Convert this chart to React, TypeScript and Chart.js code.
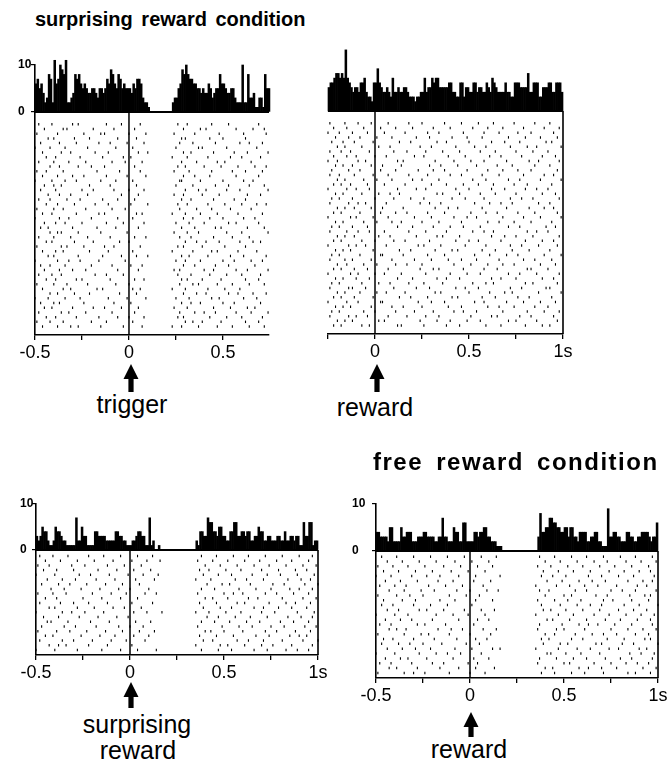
import React, { useEffect, useRef } from "react";
import { Chart, registerables } from "chart.js";

Chart.register(...registerables);

const FONT = "'Liberation Sans', Arial, Helvetica, sans-serif";
const BIN_S = 0.01;

const xTickValues = [-0.5, -0.25, 0, 0.25, 0.5, 0.75, 1];
const xTickLabels = ["-0.5", "", "0", "", "0.5", "", "1s"];
const yTickValues = [0, 10];
const yTickLabels = ["0", "10"];

// PSTH counts per 10 ms bin
const triggerHistStart = -0.5;
const triggerHist = [
  6, 7, 5, 6, 4, 2, 3, 8, 7, 2,
  11, 6, 7, 10, 9, 8, 11, 2, 2, 3,
  4, 8, 7, 8, 6, 5, 6, 5, 4, 4,
  5, 5, 4, 3, 5, 5, 4, 5, 7, 6,
  9, 8, 6, 5, 8, 7, 5, 6, 5, 5,
  5, 4, 6, 5, 7, 7, 6, 3, 2, 2,
  1, 0, 0, 0, 0, 0, 0, 0, 0, 0,
  0, 0, 0, 2, 3, 3, 5, 6, 9, 8,
  10, 8, 7, 7, 6, 6, 5, 5, 4, 5,
  4, 4, 6, 5, 3, 4, 5, 5, 8, 6,
  6, 5, 4, 4, 5, 5, 3, 2, 2, 2,
  10, 2, 2, 8, 3, 3, 4, 1, 1, 3,
  3, 1, 8, 5, 5,
];

const rewardHistStart = -0.25;
const rewardHist = [
  5, 6, 6, 7, 8, 8, 7, 8, 7, 13,
  7, 6, 5, 4, 5, 5, 4, 6, 6, 7,
  4, 3, 3, 2, 6, 6, 9, 6, 5, 4,
  4, 5, 4, 3, 7, 4, 4, 5, 4, 4,
  5, 5, 4, 3, 3, 3, 2, 3, 3, 4,
  4, 7, 4, 5, 5, 7, 6, 7, 7, 5,
  5, 5, 5, 5, 6, 6, 4, 4, 3, 3,
  6, 6, 3, 5, 5, 4, 4, 6, 6, 4,
  5, 5, 4, 4, 6, 5, 4, 7, 6, 5,
  4, 4, 4, 4, 6, 4, 4, 3, 3, 6,
  6, 6, 5, 5, 5, 5, 8, 4, 4, 6,
  6, 6, 3, 3, 5, 5, 5, 6, 6, 4,
  4, 6, 6, 6, 4,
];

const surpriseHistStart = -0.5;
const surpriseHist = [
  3, 2, 3, 5, 4, 4, 2, 1, 1, 2,
  5, 4, 4, 3, 2, 2, 1, 1, 1, 1,
  1, 7, 2, 2, 5, 3, 3, 1, 1, 1,
  1, 4, 4, 3, 3, 3, 3, 2, 2, 2,
  2, 2, 4, 4, 3, 3, 2, 2, 1, 1,
  1, 2, 2, 3, 4, 4, 3, 3, 1, 1,
  7, 1, 2, 0, 0, 1, 0, 0, 0, 0,
  0, 0, 0, 0, 0, 0, 0, 0, 0, 0,
  0, 0, 0, 0, 0, 2, 1, 4, 4, 3,
  3, 7, 6, 6, 4, 4, 3, 5, 5, 3,
  3, 2, 2, 4, 4, 6, 6, 3, 3, 4,
  4, 3, 4, 4, 2, 2, 3, 3, 5, 4,
  4, 2, 2, 3, 3, 2, 2, 2, 3, 3,
  2, 2, 4, 2, 2, 3, 3, 2, 3, 3,
  1, 1, 6, 3, 3, 6, 6, 1, 2, 2,
];

const freeHistStart = -0.5;
const freeHist = [
  4, 4, 3, 3, 3, 3, 2, 5, 5, 2,
  2, 2, 2, 5, 3, 3, 4, 4, 4, 2,
  2, 2, 3, 3, 3, 4, 4, 3, 3, 3,
  3, 2, 2, 3, 3, 7, 3, 3, 2, 2,
  2, 5, 4, 4, 2, 2, 6, 6, 2, 2,
  2, 2, 4, 4, 3, 4, 4, 5, 5, 3,
  3, 2, 2, 2, 1, 1, 1, 0, 0, 0,
  0, 0, 0, 0, 0, 0, 0, 0, 0, 0,
  0, 0, 0, 0, 0, 0, 3, 8, 4, 4,
  5, 5, 7, 7, 6, 6, 5, 5, 4, 4,
  5, 5, 3, 5, 5, 3, 3, 2, 4, 4,
  4, 4, 2, 2, 3, 3, 4, 4, 2, 2,
  1, 1, 1, 9, 3, 3, 4, 4, 3, 3,
  2, 2, 2, 4, 4, 3, 3, 2, 2, 3,
  3, 4, 4, 4, 4, 3, 2, 3, 3, 6,
];

// Raster: spike times (centiseconds) for each trial, top trial first
const triggerRaster = [
  "-48 -41 -30 -27 -12 -4 6 26 31 44 53 69",
  "-45 -35 -33 -19 -8 3 29 38 41 57 66 72",
  "-49 -38 -24 -15 -13 0 9 24 35 48 61 73",
  "-43 -40 -29 -21 -6 4 28 30 43 50 62",
  "-47 -37 -28 -16 -10 -1 8 27 34 46 59 64 71",
  "-50 -42 -34 -22 -7 2 25 37 39 52 68",
  "-46 -36 -31 -18 -11 5 10 29 33 45 56 63 74",
  "-44 -39 -26 -14 -3 1 23 31 42 54 60 70",
  "-48 -40 -32 -23 -9 -2 7 28 36 47 51 65",
  "-42 -37 -27 -20 -13 3 26 30 40 49 58 67 73",
  "-49 -44 -35 -17 -5 6 24 32 44 55 62 71",
  "-46 -38 -30 -24 -12 -1 9 29 35 43 57 69",
  "-50 -41 -34 -28 -15 -7 2 27 28 38 50 61 66",
  "-45 -40 -36 -21 -10 4 25 34 46 53 64 72",
  "-47 -39 -25 -19 -8 0 8 30 37 41 52 59 74",
  "-43 -37 -31 -22 -4 5 24 29 39 48 63 70",
  "-48 -42 -33 -26 -14 -6 3 28 33 45 56 62",
  "-44 -38 -29 -18 -11 1 10 26 31 42 51 60 68 73",
  "-49 -40 -35 -23 -9 -2 27 36 44 54 65",
  "-46 -41 -28 -16 -13 4 7 23 30 38 47 58 71",
  "-50 -37 -32 -20 -6 2 29 34 43 50 61 67",
  "-45 -39 -34 -25 -12 -3 8 25 32 40 53 57 69",
  "-47 -43 -30 -17 -7 5 28 35 46 49 63 72",
  "-42 -38 -36 -27 -15 -1 24 31 37 52 60 74",
  "-48 -40 -31 -22 -10 3 9 27 33 45 55 64",
  "-44 -41 -29 -19 -5 0 30 36 41 48 59 66 70",
  "-49 -36 -33 -24 -13 -8 6 26 29 39 51 62",
  "-46 -39 -35 -21 -11 2 23 34 44 47 58 68",
  "-43 -40 -27 -14 -4 4 10 28 32 42 54 61 73",
  "-50 -38 -32 -26 -16 -2 25 30 38 50 56 65 71",
  "-47 -42 -34 -20 -9 1 7 29 35 46 53 67",
  "-45 -37 -30 -23 -6 5 24 27 40 45 57 63 74",
  "-48 -41 -36 -18 -12 -3 26 33 43 52 60 70",
  "-44 -39 -28 -25 -10 3 8 28 31 39 49 62 69",
  "-49 -40 -33 -22 -7 0 27 34 37 47 55 64 72",
  "-46 -35 -31 -17 -14 2 6 23 30 42 51 59",
  "-42 -38 -29 -21 -5 4 29 36 41 53 58 66 73",
  "-50 -43 -34 -26 -11 -1 9 25 32 44 48 61 68",
  "-47 -40 -37 -24 -8 1 28 33 38 50 56 70",
  "-45 -41 -30 -19 -13 -4 5 24 31 45 54 63 67",
  "-48 -36 -32 -23 -9 3 27 35 40 46 57 65 74",
  "-44 -39 -28 -16 -6 0 8 26 29 43 52 60 71",
  "-49 -42 -35 -20 -12 2 30 34 39 49 62 69",
  "-46 -38 -31 -27 -15 -3 7 23 28 37 47 55 64 72",
];

const rewardRaster = [
  "-24 -16 -9 -2 7 18 25 37 46 55 63 74 85 93",
  "-22 -15 -6 3 11 20 31 40 52 60 68 79 90 98",
  "-25 -19 -12 -4 5 16 28 34 47 58 66 76 83 95",
  "-21 -14 -8 1 9 22 29 41 49 57 71 80 88 97",
  "-23 -17 -11 -1 13 19 33 38 50 62 69 77 91 94",
  "-20 -16 -7 2 8 24 30 43 53 59 72 81 86 99",
  "-24 -18 -13 -3 10 17 27 36 45 56 64 75 84 92",
  "-22 -15 -10 0 6 21 26 39 48 61 67 78 89 96",
  "-25 -20 -9 -5 12 15 32 42 51 58 70 82 87 98",
  "-21 -17 -12 -2 4 14 29 35 44 54 65 73 85 93",
  "-23 -14 -8 3 11 23 31 37 49 60 68 76 83 97",
  "-24 -19 -11 -1 7 18 28 40 46 57 66 79 90 95",
  "-20 -16 -6 1 9 20 25 34 52 59 71 77 88 99",
  "-22 -18 -13 -4 5 16 30 38 47 55 63 74 81 94",
  "-25 -15 -10 -3 12 22 27 43 50 62 69 80 86 92",
  "-21 -17 -7 2 8 13 33 36 45 56 64 75 89 96",
  "-23 -19 -12 0 10 19 26 41 48 58 72 78 84 98",
  "-24 -14 -9 -5 6 24 29 35 53 61 67 73 87 93",
  "-20 -16 -11 -2 4 15 32 39 44 57 70 82 90 95",
  "-22 -18 -8 3 11 17 28 37 51 59 65 76 85 97",
  "-25 -13 -10 -1 7 21 30 42 49 54 68 79 88 99",
  "-21 -17 -6 1 9 14 25 34 46 60 66 74 83 94",
  "-23 -19 -12 -4 12 20 31 40 47 56 71 77 91 96",
  "-24 -15 -9 -3 5 18 27 38 52 58 63 81 86 92",
  "-20 -16 -11 2 8 22 33 36 45 62 69 75 84 98",
  "-22 -18 -7 0 10 16 29 43 50 55 67 80 89 95",
  "-25 -14 -10 -5 6 23 26 35 48 59 72 78 87 97",
  "-21 -17 -13 -1 13 19 32 41 44 57 64 73 82 93",
  "-23 -19 -8 3 4 15 28 37 53 61 70 76 90 99",
  "-24 -16 -12 -2 9 21 30 39 46 54 66 79 85 94",
  "-20 -15 -6 1 11 17 25 42 51 60 68 74 88 96",
  "-22 -18 -11 -4 7 24 31 34 47 58 65 81 83 92",
  "-25 -13 -9 0 5 14 27 40 49 56 71 77 86 98",
  "-21 -17 -10 -3 12 20 33 38 45 62 67 75 89 95",
  "-23 -19 -7 2 8 18 26 36 52 59 63 80 84 97",
  "-24 -14 -12 -5 10 22 29 43 48 55 72 78 91 93",
  "-20 -16 -8 1 6 16 32 35 50 61 69 73 87 99",
  "-22 -18 -11 -1 13 19 28 41 44 57 64 76 82 94",
  "-25 -15 -9 3 4 23 30 37 53 58 70 79 88 96",
  "-21 -17 -13 -2 9 15 25 39 46 60 66 74 85 92",
  "-23 -19 -6 0 11 21 31 42 47 54 68 81 90 98",
  "-24 -14 -10 -4 7 17 27 34 51 62 65 77 83 95",
  "-20 -16 -12 2 5 24 33 40 49 56 71 75 86 97",
  "-22 -18 -7 -3 12 14 26 38 45 59 67 80 89 93",
];

const surpriseRaster = [
  "-48 -41 -33 -22 -14 -5 4 12 38 46 55 63 72 81 90 97",
  "-45 -37 -28 -19 -9 1 9 16 36 44 52 61 69 78 86 95",
  "-49 -43 -31 -24 -12 -3 6 40 48 57 66 74 83 92 99",
  "-46 -39 -30 -17 -7 2 11 37 42 51 59 70 79 88 94",
  "-50 -40 -27 -21 -11 -1 7 15 39 47 54 65 73 80 89 98",
  "-44 -36 -29 -18 -8 3 13 35 43 56 62 71 84 91 96",
  "-47 -38 -32 -23 -13 -4 5 41 49 53 64 76 82 93 100",
  "-42 -35 -26 -16 -6 0 10 38 45 58 67 75 85 90 97",
  "-49 -41 -34 -20 -10 -2 8 14 36 50 55 60 72 78 87 95",
  "-45 -39 -25 -15 -5 4 40 44 52 63 68 81 92 99",
  "-48 -37 -30 -22 -12 1 12 37 46 57 61 74 83 88 96",
  "-43 -40 -28 -19 -9 -3 6 39 48 54 66 71 79 86 94",
  "-50 -36 -31 -24 -14 2 9 17 35 42 51 59 70 77 89 98",
  "-46 -38 -27 -17 -7 -1 41 47 56 64 73 84 91 97",
  "-44 -42 -33 -21 -11 3 11 38 45 53 62 69 80 87 95",
  "-47 -35 -29 -18 -6 0 7 36 49 58 65 75 82 93 99",
  "-49 -39 -32 -23 -13 -4 5 13 40 43 50 60 72 78 88 96",
  "-45 -41 -26 -16 -8 2 10 37 46 55 67 74 85 90 94",
  "-48 -36 -30 -20 -10 -2 8 39 44 57 63 71 81 92 100",
  "-43 -38 -34 -22 -12 1 35 48 52 61 70 76 86 97",
  "-50 -40 -28 -15 -5 4 14 38 47 54 66 73 83 89 95",
];

const freeRaster = [
  "-47 -39 -30 -21 -12 -3 6 14 37 45 54 62 71 80 88 97",
  "-44 -36 -27 -18 -8 1 10 40 48 57 66 73 83 91 99",
  "-49 -41 -33 -24 -14 -5 4 12 36 43 52 60 69 77 86 95",
  "-46 -38 -29 -20 -10 -1 8 39 47 55 64 74 82 90 96",
  "-50 -42 -31 -23 -16 -6 3 16 38 44 51 63 70 79 87 98",
  "-45 -37 -28 -17 -9 2 11 41 49 58 65 72 84 92 97",
  "-48 -40 -34 -22 -13 -4 7 35 46 53 61 68 78 89 94",
  "-43 -35 -26 -19 -7 0 9 15 37 42 56 62 75 81 88 99",
  "-49 -39 -32 -25 -11 -2 5 40 50 54 67 73 85 93 96",
  "-46 -36 -29 -16 -8 3 12 36 45 52 59 71 76 86 95",
  "-47 -41 -30 -21 -12 1 38 48 57 64 70 82 90 100",
  "-44 -38 -27 -23 -14 -3 6 13 39 43 51 60 69 79 87 94",
  "-50 -40 -33 -18 -9 -1 8 35 47 55 66 74 83 91 98",
  "-45 -37 -31 -20 -6 4 10 41 44 53 62 72 80 89 96",
  "-48 -42 -28 -24 -13 2 37 49 58 63 68 77 86 97",
  "-43 -39 -34 -17 -10 -4 7 14 36 46 50 61 75 84 92 99",
  "-49 -35 -26 -22 -11 0 11 40 45 56 65 71 78 88 95",
  "-46 -41 -30 -19 -7 3 9 38 42 54 60 73 82 93 96",
  "-47 -38 -32 -25 -15 -2 5 39 48 52 67 70 81 87 100",
  "-44 -36 -29 -21 -8 1 12 16 35 47 57 64 74 79 90 94",
  "-50 -40 -27 -18 -12 -5 6 41 43 51 59 69 85 91 98",
  "-45 -37 -33 -23 -9 2 10 37 46 55 62 72 80 86 97",
  "-48 -42 -31 -20 -14 -1 4 36 50 53 66 75 83 89 95",
  "-43 -39 -28 -16 -6 3 13 40 44 58 63 70 78 92 99",
  "-49 -35 -30 -24 -11 0 8 38 45 54 61 71 84 88 96",
];

type PanelCfg = {
  id: string;
  L: number;
  R: number;
  T: number;
  B: number;
  xmin: number;
  xmax: number;
  ymin: number;
  showY: boolean;
  yAxisW: number;
  rightBorder: boolean;
  rowTop: number;
  rowStep: number;
  hist: number[];
  histStart: number;
  raster: string[];
};

const panels: PanelCfg[] = [
  {
    id: "trigger", L: 35, R: 269, T: 65, B: 335, xmin: -0.5, xmax: 0.745, ymin: -47.4,
    showY: true, yAxisW: 17, rightBorder: false, rowTop: -2.6, rowStep: 1.0,
    hist: triggerHist, histStart: triggerHistStart, raster: triggerRaster,
  },
  {
    id: "reward", L: 328, R: 563, T: 64, B: 334, xmin: -0.25, xmax: 1.0, ymin: -47.4,
    showY: false, yAxisW: 0, rightBorder: true, rowTop: -2.6, rowStep: 1.0,
    hist: rewardHist, histStart: rewardHistStart, raster: rewardRaster,
  },
  {
    id: "surprise", L: 36, R: 318, T: 504, B: 655, xmin: -0.5, xmax: 1.0, ymin: -22.8,
    showY: true, yAxisW: 16, rightBorder: true, rowTop: -1.3, rowStep: 1.02,
    hist: surpriseHist, histStart: surpriseHistStart, raster: surpriseRaster,
  },
  {
    id: "free", L: 376, R: 658, T: 504, B: 678, xmin: -0.5, xmax: 1.0, ymin: -27.0,
    showY: true, yAxisW: 24, rightBorder: true, rowTop: -1.2, rowStep: 1.03,
    hist: freeHist, histStart: freeHistStart, raster: freeRaster,
  },
];

const PAD_L = 40, PAD_T = 25, PAD_R = 40, PAD_B = 45, X_AXIS_H = 30;

function Panel({ cfg }: { cfg: PanelCfg }) {
  const ref = useRef<HTMLCanvasElement>(null);
  const cw = cfg.R - cfg.L + PAD_L + PAD_R;
  const ch = cfg.B - cfg.T + PAD_T + PAD_B;

  useEffect(() => {
    if (!ref.current) return;
    const histData = cfg.hist.map((v, i) => ({ x: cfg.histStart + (i + 0.5) * BIN_S, y: v }));
    const rasterData: { x: number; y: number }[] = [];
    cfg.raster.forEach((row, i) => {
      row.trim().split(/\s+/).forEach((s) => {
        rasterData.push({ x: Number(s) / 100, y: cfg.rowTop - i * cfg.rowStep });
      });
    });
    const frame = (pts: { x: number; y: number }[], w: number) => ({
      type: "line" as const,
      data: pts,
      borderColor: "#000",
      borderWidth: w,
      pointRadius: 0,
      tension: 0,
      clip: false as any,
    });
    const datasets: any[] = [
      {
        type: "bar",
        data: histData,
        backgroundColor: "#000",
        borderWidth: 0,
        barPercentage: 1,
        categoryPercentage: 1,
        clip: false,
      },
      {
        type: "scatter",
        data: rasterData,
        pointStyle: "line",
        pointRadius: 1.25,
        pointRotation: 90,
        pointBorderWidth: 1.1,
        pointBorderColor: "#000",
        pointBackgroundColor: "#000",
        showLine: false,
        clip: false,
      },
      frame([{ x: cfg.xmin, y: 0 }, { x: cfg.xmax, y: 0 }], 2),
      frame([{ x: 0, y: 0 }, { x: 0, y: cfg.ymin }], 1.5),
    ];
    if (cfg.rightBorder) {
      datasets.push(frame([{ x: cfg.xmax, y: 0 }, { x: cfg.xmax, y: cfg.ymin }], 1.6));
    }
    const chart = new Chart(ref.current, {
      type: "bar",
      data: { datasets },
      options: {
        responsive: false,
        animation: false,
        devicePixelRatio: 1,
        events: [],
        layout: {
          padding: {
            left: PAD_L - cfg.yAxisW,
            top: PAD_T,
            right: PAD_R,
            bottom: PAD_B - X_AXIS_H,
          },
        },
        plugins: { legend: { display: false }, tooltip: { enabled: false } },
        scales: {
          x: {
            type: "linear",
            min: cfg.xmin,
            max: cfg.xmax,
            offset: false,
            afterBuildTicks: (s: any) => {
              s.ticks = xTickValues
                .filter((v) => v >= cfg.xmin - 1e-9 && v <= cfg.xmax + 1e-9)
                .map((v) => ({ value: v }));
            },
            afterFit: (s: any) => {
              s.height = X_AXIS_H;
            },
            grid: {
              display: true,
              offset: false,
              drawOnChartArea: false,
              drawTicks: true,
              tickLength: 5,
              color: "#000",
              lineWidth: 1.3,
            },
            border: { display: true, color: "#000", width: 1.6 },
            ticks: {
              autoSkip: false,
              maxRotation: 0,
              padding: 2,
              color: "#000",
              font: { family: FONT, size: 18 },
              callback: (v: any) => {
                const i = xTickValues.findIndex((t) => Math.abs(t - Number(v)) < 1e-9);
                return i >= 0 ? xTickLabels[i] : "";
              },
            },
          },
          y: {
            type: "linear",
            display: cfg.showY,
            min: cfg.ymin,
            max: 10,
            beginAtZero: false,
            afterBuildTicks: (s: any) => {
              s.ticks = yTickValues.map((v) => ({ value: v }));
            },
            afterFit: (s: any) => {
              s.width = cfg.yAxisW;
            },
            grid: {
              display: true,
              drawOnChartArea: false,
              drawTicks: true,
              tickLength: 4,
              color: "#000",
              lineWidth: 1.2,
            },
            border: { display: true, color: "#000", width: 1.6 },
            ticks: {
              autoSkip: false,
              crossAlign: "far",
              padding: 1,
              color: "#000",
              font: { family: FONT, size: 12, weight: "bold" },
              callback: (v: any) => {
                const i = yTickValues.findIndex((t) => Math.abs(t - Number(v)) < 1e-9);
                return i >= 0 ? yTickLabels[i] : "";
              },
            },
          },
        },
      } as any,
    });
    return () => chart.destroy();
  }, [cfg]);

  return (
    <canvas
      ref={ref}
      width={cw}
      height={ch}
      style={{
        position: "absolute",
        left: cfg.L - PAD_L,
        top: cfg.T - PAD_T,
        width: cw,
        height: ch,
      }}
    />
  );
}

function Label({
  text, cx, baseline, size = 25, bold = false, left, ls = 0, ws = 0,
}: {
  text: string; cx?: number; baseline: number; size?: number; bold?: boolean; left?: number; ls?: number; ws?: number;
}) {
  const top = baseline - (size * 0.905 - (size * 1.117 - size) / 2);
  const style: React.CSSProperties = {
    position: "absolute",
    top,
    fontFamily: FONT,
    fontSize: size,
    lineHeight: `${size}px`,
    fontWeight: bold ? 700 : 400,
    letterSpacing: ls,
    wordSpacing: ws,
    whiteSpace: "nowrap",
    color: "#000",
  };
  if (left !== undefined) {
    style.left = left;
  } else {
    style.left = (cx as number) - 150;
    style.width = 300;
    style.textAlign = "center";
  }
  return <div style={style}>{text}</div>;
}

function Arrow({ cx, tip, base, bottom }: { cx: number; tip: number; base: number; bottom: number }) {
  const hw = 7.5, sw = 2.6;
  const pts = [
    [cx, tip], [cx + hw, base], [cx + sw, base], [cx + sw, bottom],
    [cx - sw, bottom], [cx - sw, base], [cx - hw, base],
  ].map((p) => p.join(",")).join(" ");
  return <polygon points={pts} fill="#000" />;
}

export default function App() {
  return (
    <div
      style={{
        position: "absolute",
        left: 0,
        top: 0,
        width: 672,
        height: 767,
        background: "#fff",
        overflow: "hidden",
      }}
    >
      {panels.map((p) => (
        <Panel key={p.id} cfg={p} />
      ))}
      <Label text="surprising reward condition" left={35} baseline={26} size={20} bold ls={0} ws={3} />
      <Label text="free reward condition" left={373} baseline={470} size={24} bold ls={1.5} ws={5} />
      <Label text="trigger" cx={132} baseline={413} />
      <Label text="reward" cx={375} baseline={416} />
      <Label text="surprising" cx={137} baseline={733} />
      <Label text="reward" cx={138} baseline={759} />
      <Label text="reward" cx={469} baseline={758} />
      <svg
        width={672}
        height={767}
        style={{ position: "absolute", left: 0, top: 0, pointerEvents: "none" }}
      >
        <Arrow cx={131} tip={364} base={379} bottom={392} />
        <Arrow cx={377} tip={364} base={379} bottom={392} />
        <Arrow cx={131} tip={682} base={697} bottom={708} />
        <Arrow cx={471} tip={712} base={727} bottom={737} />
      </svg>
    </div>
  );
}
